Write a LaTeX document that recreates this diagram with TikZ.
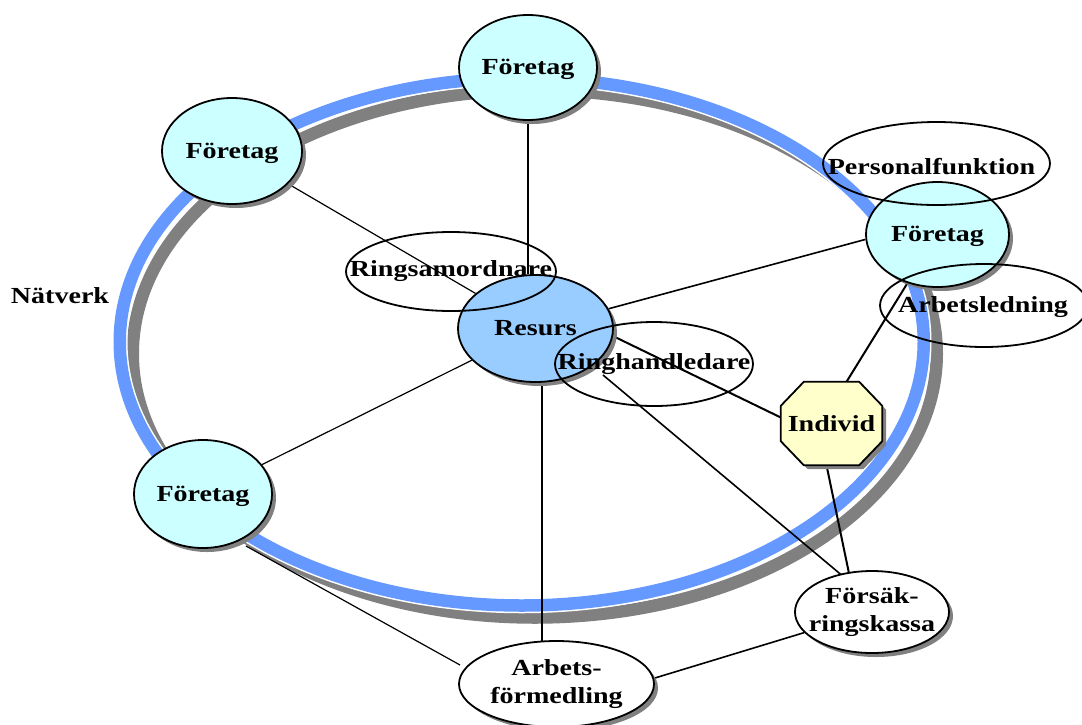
\documentclass[tikz,border=0pt]{standalone}
\usepackage{fontspec}
\setmainfont{Liberation Serif}[FakeStretch=1.22]
\usetikzlibrary{shapes.geometric,shadows,calc,backgrounds}
\definecolor{ringblue}{HTML}{6699FF}
\definecolor{ringgray}{HTML}{808080}
\definecolor{ftfill}{HTML}{CCFFFF}
\definecolor{resfill}{HTML}{99CCFF}
\definecolor{indfill}{HTML}{FFFFCC}
\newcommand{\octo}[1]{($(ind.north west)+(23+#1,#1)$) -- ($(ind.north east)+(-23+#1,#1)$) -- ($(ind.north east)+(#1,24+#1)$) -- ($(ind.south east)+(#1,-24+#1)$) -- ($(ind.south east)+(-23+#1,#1)$) -- ($(ind.south west)+(23+#1,#1)$) -- ($(ind.south west)+(#1,-24+#1)$) -- ($(ind.north west)+(#1,24+#1)$) -- cycle}
\begin{document}
\begin{tikzpicture}[x=1pt,y=-1pt,
  every node/.style={font=\fontsize{23}{28}\selectfont\bfseries},
  oval/.style={ellipse, draw, line width=1.8pt, inner sep=0pt},
  shdw/.style={drop shadow={shadow xshift=4pt, shadow yshift=-4pt, fill=ringgray, opacity=1}},
  firm/.style={oval, shdw, fill=ftfill},
  lnA/.style={line width=1.2pt},
  lnB/.style={line width=1.6pt},
  lnC/.style={line width=2pt}]
\useasboundingbox (0,0) rectangle (1082,724);

% nodes
\node[firm, minimum width=138, minimum height=105, label={[yshift=-2pt]center:Företag}] (tf) at (528,67.5) {};
\node[firm, minimum width=140, minimum height=106, label={[yshift=-2pt]center:Företag}] (lf) at (232,151) {};
\node[firm, minimum width=143, minimum height=105, label={[yshift=-2pt]center:Företag}] (rf) at (937.5,234.5) {};
\node[firm, minimum width=138, minimum height=108, label={[yshift=-2pt]center:Företag}] (llf) at (203,494) {};
\node[oval, shdw, fill=resfill, minimum width=155, minimum height=107, label=center:Resurs] (res) at (535.5,328.5) {};
\node[oval, minimum width=210, minimum height=79, label=center:Ringsamordnare] (rs) at (451,271.5) {};
\node[oval, minimum width=198, minimum height=84, label=center:Ringhandledare] (rh) at (654,364) {};
\node[oval, minimum width=227, minimum height=83, label={[xshift=-5pt,yshift=-3pt]center:Personalfunktion}] (pf) at (936.5,163.5) {};
\node[oval, minimum width=208, minimum height=83, label={[xshift=-1pt,yshift=-2pt]center:Arbetsledning}] (al) at (984,305.5) {};
\node[oval, shdw, fill=white, minimum width=154, minimum height=82, label={[align=center]center:Försäk-\\ringskassa}] (fk) at (872,612) {};
\node[oval, shdw, fill=white, minimum width=195, minimum height=86, label={[align=center]center:Arbets-\\förmedling}] (af) at (556.5,684) {};
\node[rectangle, inner sep=0pt, minimum width=101, minimum height=83] (ind) at (831.5,423.5) {Individ};
\node (nv) at (60,296) {Nätverk};

\begin{scope}[on background layer]
  % ring
  \draw[ringgray, line width=12.5pt] (534.75,353.75) ellipse [x radius=402, y radius=263.75];
  \draw[white, line width=15.5pt] (521.75,341.75) ellipse [x radius=402, y radius=263.75];
  \draw[ringblue, line width=12.5pt] (521.75,341.75) ellipse [x radius=402, y radius=263.75];
  % connectors
  \draw[lnC] (tf.south) -- (tf.south |- res.north);
  \draw[lnA] (lf) -- (res);
  \draw[lnB] (res) -- ($(rf.west)+(0,5)$);
  \draw[lnA] (llf) -- (res);
  \draw[lnC] ($(res.south)+(6,0)$) -- ($(af.north)+(-15,1)$);
  \draw[lnC] ($(res.east)+(0,8)$) -- ($(ind.west)+(0,-6)$);
  \coordinate (fkin) at ($(fk)+(-21,-29)$);
  \coordinate (rhs) at ($(res)+(67.5,46.5)$);
  \draw[lnB] (rhs) -- (fkin);
  \draw[lnC] ($(ind.south)+(-5,0)$) -- (fkin);
  \draw[lnC] ($(ind.north)+(15,0)$) -- (rf);
  \coordinate (llfout) at ($(llf)+(43,52)$);
  \coordinate (afin) at ($(af)+(-96.5,-19)$);
  \draw[lnA] (llfout) -- (afin);
  \draw[lnB] ($(af.east)+(0,-6)$) -- (fk);
  % octagon for Individ
  \fill[ringgray] \octo{4};
  \filldraw[fill=indfill, line width=1.8pt] \octo{0};
\end{scope}
\end{tikzpicture}
\end{document}
